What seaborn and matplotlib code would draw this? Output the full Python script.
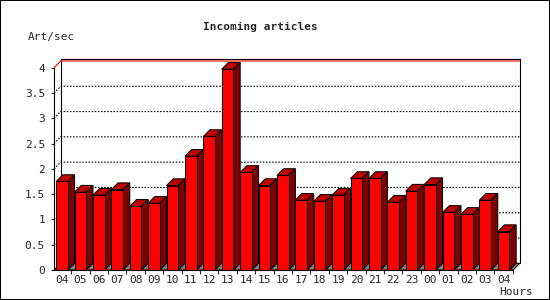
import numpy as np
import pandas as pd
import seaborn as sns
import matplotlib
matplotlib.use("Agg")
import matplotlib.pyplot as plt
from matplotlib.patches import Polygon
from matplotlib.lines import Line2D

# ---- data ----
hours = ["04", "05", "06", "07", "08", "09", "10", "11", "12", "13", "14", "15", "16",
         "17", "18", "19", "20", "21", "22", "23", "00", "01", "02", "03", "04"]
rates = [1.75, 1.54, 1.48, 1.59, 1.26, 1.32, 1.67, 2.25, 2.64, 3.97, 1.93, 1.67, 1.87,
         1.38, 1.36, 1.48, 1.81, 1.81, 1.34, 1.56, 1.69, 1.14, 1.10, 1.38, 0.76]
yticks = [0, 0.5, 1, 1.5, 2, 2.5, 3, 3.5, 4]
ytick_labels = ["0", "0.5", "1", "1.5", "2", "2.5", "3", "3.5", "4"]
title = "Incoming articles"
ylabel = "Art/sec"
xlabel = "Hours"

sns.set_style("white")
plt.rcParams["font.family"] = ["DejaVu Sans Mono"]
plt.rcParams["font.size"] = 8

W, H = 550, 300
fig = plt.figure(figsize=(W / 100, H / 100), dpi=100, linewidth=1.4, edgecolor="black")
ax = fig.add_axes([54 / W, 30 / H, 459 / W, 202.3 / H])

df = pd.DataFrame({"pos": np.arange(len(hours)), "rate": rates})
sns.barplot(data=df, x="pos", y="rate", native_scale=True, width=0.636,
            color="#ff0000", edgecolor="black", linewidth=0.75, saturation=1, ax=ax,
            errorbar=None)

x0, x1 = -0.435, -0.435 + 459 / 18.4
ymax = 4
ax.set_xlim(x0, x1)
ax.set_ylim(0, ymax)
for s in ax.spines.values():
    s.set_visible(False)

# depth in data units (~6.7 px)
dx = 6.7 / 18.4
dy = 6.7 / 50.6

# floor
ax.add_patch(Polygon([(x0, 0), (x1, 0), (x1 + dx, dy), (x0 + dx, dy)], closed=True,
                     facecolor="#808080", edgecolor="black", linewidth=0.75,
                     clip_on=False, zorder=1))

# back wall grid lines (dotted) with diagonal connectors
for yv in yticks[1:-1]:
    ax.add_line(Line2D([x0, x0 + dx, x1 + dx], [yv, yv + dy, yv + dy], color="black",
                       linewidth=0.8, linestyle=(0, (1.4, 1.4)), clip_on=False, zorder=1.5))
# red line at top
ax.add_line(Line2D([x0, x0 + dx, x1 + dx], [ymax, ymax + dy, ymax + dy], color="red",
                   linewidth=0.8, clip_on=False, zorder=1.8))
# back wall frame
top = ymax + dy + 2.4 / 50.6
ax.add_line(Line2D([x0 + dx, x0 + dx, x1 + dx, x1 + dx], [dy, top, top, dy],
                   color="black", linewidth=0.8, clip_on=False, zorder=1.7))
# front axes
ax.add_line(Line2D([x0, x0], [0, ymax], color="black", linewidth=0.8, clip_on=False, zorder=4))
ax.add_line(Line2D([x0, x1], [0, 0], color="black", linewidth=0.8, clip_on=False, zorder=4))

# 3D faces for bars
for p in ax.patches:
    if p.get_facecolor()[:3] != (1.0, 0.0, 0.0):
        continue
    p.set_zorder(3)
    bx = p.get_x()
    bw = p.get_width()
    bh = p.get_height()
    ax.add_patch(Polygon([(bx, bh), (bx + bw, bh), (bx + bw + dx, bh + dy), (bx + dx, bh + dy)],
                         closed=True, facecolor="#c00000", edgecolor="black",
                         linewidth=0.75, clip_on=False, zorder=2.5))
    ax.add_patch(Polygon([(bx + bw, 0), (bx + bw + dx, dy), (bx + bw + dx, bh + dy), (bx + bw, bh)],
                         closed=True, facecolor="#800000", edgecolor="black",
                         linewidth=0.75, clip_on=False, zorder=2.5))

# ticks
ax.set_yticks(yticks)
ax.set_yticklabels(ytick_labels)
ax.set_xticks(np.arange(len(hours)))
ax.set_xticklabels(hours)
ax.set_xticks(np.arange(len(hours)) + 0.5, minor=True)
ax.tick_params(axis="y", direction="out", length=2.5, width=0.8, pad=4, left=True)
ax.tick_params(axis="x", which="major", length=0, pad=3.5)
ax.tick_params(axis="x", which="minor", direction="out", length=3, width=0.8, bottom=True)
ax.set_xlabel("")
ax.set_ylabel("")

fig.text(260 / W, 1 - 27 / H, title, ha="center", va="center", fontweight="bold", fontsize=8)
fig.text(28 / W, 1 - 37 / H, ylabel, ha="left", va="center", fontsize=8)
fig.text(533 / W, 1 - 292 / H, xlabel, ha="right", va="center", fontsize=8)

fig.savefig("out.png", dpi=100)
